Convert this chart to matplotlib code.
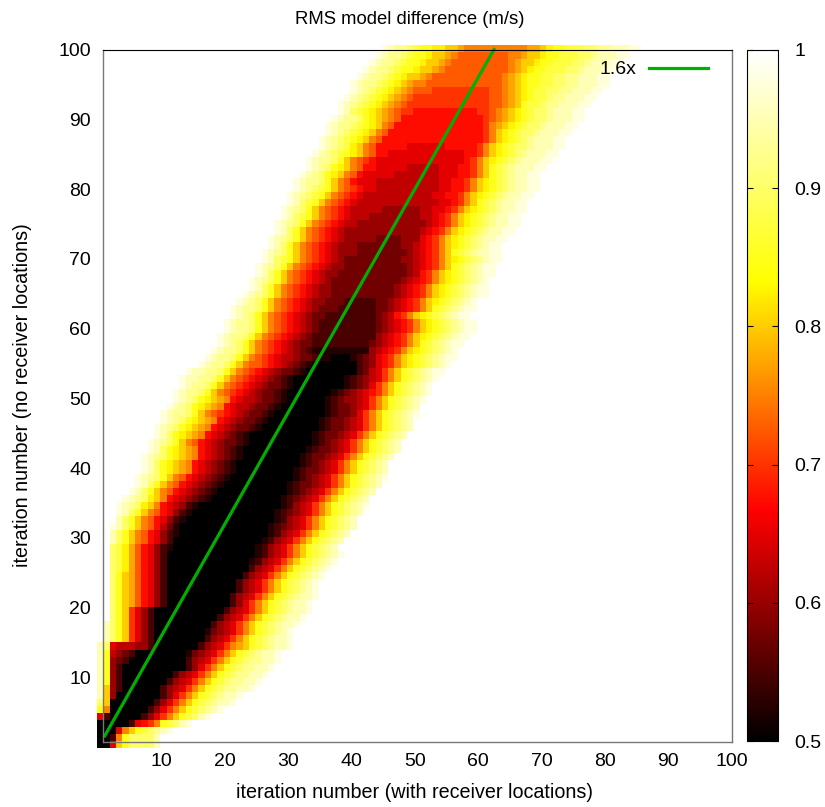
import numpy as np
import matplotlib
matplotlib.use("Agg")
import matplotlib.pyplot as plt
from matplotlib.colors import LinearSegmentedColormap

plt.rcParams["font.family"] = ["Liberation Sans", "DejaVu Sans"]

# first coloured column of each row, top row (100) first
ROW_START = [
    46, 45, 44, 43, 42, 41, 41, 40, 39, 39,
    38, 37, 37, 36, 36, 35, 34, 34, 33, 32,
    32, 31, 31, 30, 30, 29, 29, 28, 28, 27,
    27, 26, 26, 25, 25, 24, 23, 22, 22, 21,
    21, 20, 20, 19, 18, 17, 15, 14, 14, 13,
    13, 12, 11, 11, 10, 10, 9, 9, 8, 8,
    8, 7, 7, 6, 5, 4, 4, 4, 3, 3,
    3, 3, 3, 3, 3, 3, 3, 3, 3, 3,
    3, 3, 2, 2, 2, 1, 1, 1, 1, 1,
    1, 1, 1, 1, 1, 1, 1, 1, 1, 1,
]

# cell levels: base-21 digit d = 0.5 + 0.025 * d, past the end is 1.0
ROW_CELLS = [
    "jihhg feeddccba aaaaaaa aabb cd eefff ggh hiiijj",
    "jihhg feedccba 99999999 aab ccd eefff ggh iiijj",
    "jihhg feedccba 999999999 ab ccd eefff ggh iiijj",
    "jihhg feedccba 9999999999 ab cd eefff ggh iiijj",
    "jihhg fedccba 99999999999 ab cd eeff ggh hiiijj",
    "jihhg fedcbaa 999999999999 ab cd eeff gghh iiijj",
    "jihg fedcba9 9988888888899 ab cd eff ggh hiiijj",
    "jihg fedcba9 888888888888 99 ab cd eff gh hiiijj",
    "jihg fedcba 98 88888888888 899 ab c eff gh hiiijj",
    "jig fedcba9 8 87777777777 889 ab cd ef ggh iiijj",
    "jihhg edcba9 7777777777777 89 ab cd ef ggh iiijj",
    "jihhg fedca9 77777777777777 8 ab cd ef ggh iiijj",
    "jihg fedca9 777777777777777 8 a cd ef ggh iiijj",
    "jihg fedca9 7777777777777777 8 a cd ef gh iiijj",
    "jihg fdca9 7777766666677777 8a cd ef ggh iiijj",
    "jihg fedca9 7766666666666677 8a cd ef gh iiijj",
    "jihhg eca98 7666666666666667 8a cd ef gh iiijj",
    "jihg edca9 7766666 55555 66677 8a c ef gh iiijj",
    "jihg edca9 7666665 555555 66677 8 ac ef gh iijj",
    "jihhg eca9 7666555 5555555 6677 8a cd ef gh iijj",
    "jihg feca98 766555 5555555 6677 8a cd ef gh iijj",
    "jihg feca98 76555 55555555 6677 8a cd ef gh iijj",
    "jig feca98 76555 555555555 5667 8a c ef gh iijj",
    "jihg eca98 76555 5544444455 667 8a cd ef gh iijj",
    "jig feca98 7655 5444444445 567 8a cd ef gh iijj",
    "jihg eca98 76554 4444444444 567 8a cd ef gh iijj",
    "jig eca98 76544 44444444445 67 8a cd ef gh iijj",
    "jihg eca98 7654 44443333444 67 8a cd ef gh iijj",
    "jig eca98 7654 443 33333 3445 67 8a cd ef gh ijj",
    "jihg eca9 87654 443 333333 345 67 8a c ef gh iijj",
    "jig feca98 76 543 3333333 3445 67 8a cd ef gh ijj",
    "jihg eca98 765 443 33333333 345 67 8 ac ef gh ijj",
    "jig eca98 7654 43 333333333 345 7 8a cd ef gh ijj",
    "jihg eca9 8765 43 3333333333 45 67 8a cd ef gh ij",
    "jig eca9 8 7654 43 333333333 45 67 8a cd ef gh ijj",
    "jihg eca9 8 765 443 333333333 45 67 8a cd ef gh ijj",
    "jihg eca9 8 765 443 332222233 45 67 8a cd ef gh ij",
    "jihhg eca9 8 76 543 3322222233 45 67 8a c ef gh ijj",
    "jihg eca9 8 765 43 3222222223 45 7 8a cd ef gh ijj",
    "jihhg eca9 8 76 54 32222222223 45 67 8a cd ef gh ijj",
    "jihhg eca98 765 43 2222222223 45 67 8a cd ef gh ijj",
    "jihhg eca98 76 54 32222222222 45 67 8 a cd ef gh ijj",
    "jihg eca98 76 543 32222222223 45 67 8a c ef gh ijj",
    "jihhg eca9 8 76 543 2111111111 45 67 8a cd ef gh ij",
    "jihhg eca9 8 765 543 321 1000 123 4 67 8a cd ef gh ijj",
    "jihhg eca9 98 76 543 21 0000000 23 4 67 8a cd ef gh ij",
    "jiihhg eca98 76 543 321 00000000 23 5 6 8a c ef gh ijj",
    "jiihhg eca98 76 543 21 00000000 123 45 6 8a c ef gh ij",
    "jihhg eca98 76 543 321 00000000 123 4 6 8a c ef gh ij",
    "jihhg eca9 8 76 543 321 0000000 123 45 67 8a c ef gh ij",
    "jihg edcba 765543321 00000 0123445 68ac efghij",
    "jihg edcba 765543321 0000000 123345 68ac efghi",
    "jihhg eca98 76543321 00000000 12334 68ac efghij",
    "jihg edcba 76543321 00000000 123345 68ac efghi",
    "jihg edcba 76543321 00000000 0123345 68ac efghi",
    "jig edcba 7654321 0000000000 123345 68ac efghi",
    "jihg eca9 76543321 000000000 012345 68ac efghi",
    "jig edcba 7654321 0000000000 123345 68ac efghi",
    "jihg edcba 7654321 000000000 123345 68ac efghi",
    "jig edcba 7654321 0000000000 12345 68ac efghi",
    "jig edcba 7654321 000000000 123345 68ac efghi",
    "jihg eca9 7654321 0000000000 12345 68ac efghij",
    "jig eca9 7654321 0000000000 123345 68ac efghi",
    "jig eca9 7654321 00000000000 12345 68ac efghi",
    "jihg dca 7654321 00000000000 12345 68ac efghi",
    "jihg dca 765421 0000000000000 1245 68ac efghij",
    "jig eca9 76421 0000000000000 12345 68ac efghi",
    "ig eca9 76421 00000000000000 1245 68ac efghi",
    "jig eca9 7531 00000000000000 12345 68ac efghi",
    "ig eca9 76421 00000000000000 1245 68ac efghi",
    "ig eca9 7642 00000000000000 1245 68ac efghi",
    "gfdb9 76421 0000000000000 1245 68ac efghi",
    "gfdb9 7642 00000000000000 1245 68ac efghij",
    "gfdb9 7642 0000000000000 1245 68ac efghij",
    "gfdb9 7642 0000000000000 245 68ac efghij",
    "gecb97642 000000000000 245 68ac efghij",
    "gecb97642 00000000000 245 68ac efghij",
    "gecb97642 00000000000 245 68ac efghij",
    "gecb97642 0000000000 245 68ac efghiij",
    "gecb97642 0000000000 24 68ac efghiij",
    "gec8642 00000000000 245 68ac efghiij",
    "gec8642 0000000000 245 68ac efghiij",
    "i gec8642 000000000 245 68ac efghiij",
    "i gec8642 00000000 1345 68ac efghij",
    "i gec8642 00000000 245 68ac efghiij",
    "ig 6 55544 2 0000000 245 68abc efghiij",
    "ie 5432 00000000 1345 68ac efghiij",
    "ie 432 000000000 245 68ac efghhiij",
    "ie 42 0000000000 24 68ac efghhiij",
    "ie 42 00000000 245 68ac efghhiij",
    "ie 42 0000000 245 68ac efghhiij",
    "ic 42 000000 245 68ac efghhiij",
    "ic 4 0000000 24 68ac efghiij",
    "gc 0000000 24 68ac efghiij",
    "ea 000000 24 68ac efghij",
    "62 00000 24 68ac efgij",
    "00000 2 67 8a ef g ij",
    "000 6ac efgh ij",
    "00 2a e gggg i",
    "00 6c e gggg i",
]

LEVEL_DIGITS = "0123456789abcdefghijk"
X_TICKS = [10, 20, 30, 40, 50, 60, 70, 80, 90, 100]
Y_TICKS = [10, 20, 30, 40, 50, 60, 70, 80, 90, 100]
CB_TICKS = [0.5, 0.6, 0.7, 0.8, 0.9, 1.0]
CB_LABELS = ["0.5", "0.6", "0.7", "0.8", "0.9", "1"]
LINE_X = [1, 62.5]
SLOPE = 1.6


def build_grid():
    grid = np.ones((100, 100))
    for i, (start, cells) in enumerate(zip(ROW_START, ROW_CELLS)):
        levels = cells.replace(" ", "")
        for j, ch in enumerate(levels):
            grid[99 - i, start - 1 + j] = 0.5 + 0.025 * LEVEL_DIGITS.index(ch)
    return grid


def main():
    W, H = 825, 807
    fig = plt.figure(figsize=(W / 100, H / 100), dpi=100)
    ax = fig.add_axes([102.7 / W, 1 - 742 / H, (732 - 102.7) / W, (742 - 49.5) / H])

    cmap = LinearSegmentedColormap.from_list("hot3", ["#000000", "#ff0000", "#ffff00", "#ffffff"], N=256)

    # cells stick out of the frame by about half a cell, like the pm3d map
    x_edges = np.arange(101) - 0.22
    y_edges = np.linspace(-0.14, 100.7, 101)
    mesh = ax.pcolormesh(x_edges, y_edges, build_grid(), cmap=cmap, vmin=0.5, vmax=1.0,
                         clip_on=False, antialiased=False, linewidth=0)

    line_x = np.array(LINE_X)
    ax.plot(line_x, SLOPE * line_x, color="#00b000", lw=2.3, label="1.6x", clip_on=False)

    ax.set_xlim(0.68, 100.1)
    ax.set_ylim(0.72, 99.93)
    ax.set_xticks(X_TICKS)
    ax.set_yticks(Y_TICKS)
    ax.tick_params(axis="x", length=0, pad=8, labelsize=14)
    ax.tick_params(axis="y", length=0, pad=8.5, labelsize=14)

    for side in ["left", "right", "bottom"]:
        ax.spines[side].set_color("#777777")
        ax.spines[side].set_linewidth(1.0)
    ax.spines["top"].set_color("black")
    ax.spines["top"].set_linewidth(0.8)

    ax.legend(loc="upper right", bbox_to_anchor=(0.9705, 0.992), frameon=False, fontsize=14,
              markerfirst=False, handlelength=3.03, handletextpad=0.62,
              borderpad=0.3, borderaxespad=0)

    fig.text(410 / W, 1 - 20 / H, "RMS model difference (m/s)", ha="center", va="center", fontsize=13.3)
    fig.text(415 / W, 1 - 793 / H, "iteration number (with receiver locations)",
             ha="center", va="center", fontsize=14.2)
    fig.text(22.5 / W, 1 - 395 / H, "iteration number (no receiver locations)",
             ha="center", va="center", rotation=90, fontsize=14.2)

    cax = fig.add_axes([746.7 / W, 1 - 741 / H, (777.7 - 746.7) / W, (741 - 50) / H])
    cb = fig.colorbar(mesh, cax=cax)
    cb.set_ticks(CB_TICKS, labels=CB_LABELS)
    cb.ax.tick_params(direction="in", left=True, right=True, length=4, width=0.8,
                      pad=12, labelsize=14, color="black")
    cb.outline.set_edgecolor("black")
    cb.outline.set_linewidth(0.8)

    fig.savefig("out.png", dpi=100)
    plt.close(fig)


if __name__ == "__main__":
    main()
